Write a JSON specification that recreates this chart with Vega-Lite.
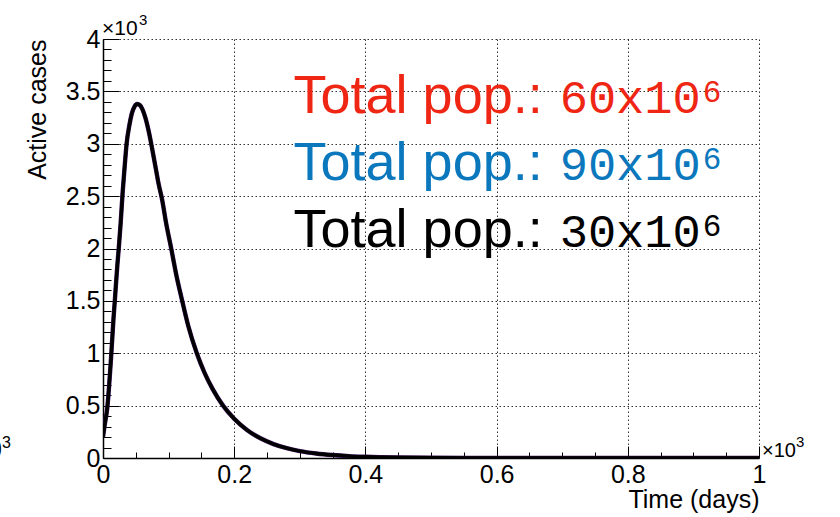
{
  "$schema": "https://vega.github.io/schema/vega-lite/v6.json",
  "width": 656,
  "height": 419,
  "autosize": "none",
  "padding": {"left": 103, "top": 39, "right": 81, "bottom": 59},
  "background": "white",
  "config": {
    "view": {"stroke": null},
    "font": "Liberation Sans",
    "text": {"font": "Liberation Sans", "color": "#000"},
    "axis": {
      "domainColor": "#000",
      "tickColor": "#000",
      "labelColor": "#000",
      "titleColor": "#000",
      "labelFont": "Liberation Sans",
      "titleFont": "Liberation Sans",
      "labelFontSize": 25,
      "titleFontSize": 25,
      "titleFontWeight": "normal",
      "labelFlush": false,
      "labelOverlap": false,
      "gridColor": "#000",
      "gridDash": [1.5, 2.5],
      "gridWidth": 1,
      "gridOpacity": 0.8
    }
  },
  "datasets": {
    "curve": [
      {"t": 0, "cases": 200}, {"t": 2, "cases": 290}, {"t": 4, "cases": 370},
      {"t": 6, "cases": 450}, {"t": 8, "cases": 580}, {"t": 10, "cases": 750},
      {"t": 12, "cases": 930}, {"t": 14, "cases": 1130}, {"t": 16, "cases": 1330},
      {"t": 18, "cases": 1500}, {"t": 20, "cases": 1680}, {"t": 22, "cases": 1850},
      {"t": 24, "cases": 2000}, {"t": 27, "cases": 2250}, {"t": 30, "cases": 2540},
      {"t": 33, "cases": 2780}, {"t": 36, "cases": 3000}, {"t": 40, "cases": 3170},
      {"t": 44, "cases": 3290}, {"t": 48, "cases": 3355}, {"t": 52, "cases": 3380},
      {"t": 56, "cases": 3370}, {"t": 60, "cases": 3330}, {"t": 65, "cases": 3240},
      {"t": 70, "cases": 3110}, {"t": 75, "cases": 2950}, {"t": 80, "cases": 2780},
      {"t": 85, "cases": 2610}, {"t": 90, "cases": 2470}, {"t": 96, "cases": 2250},
      {"t": 104, "cases": 2000}, {"t": 112, "cases": 1740}, {"t": 120, "cases": 1520},
      {"t": 130, "cases": 1260}, {"t": 143, "cases": 1000}, {"t": 155, "cases": 810},
      {"t": 167, "cases": 660}, {"t": 183, "cases": 500}, {"t": 200, "cases": 375},
      {"t": 220, "cases": 265}, {"t": 240, "cases": 188}, {"t": 260, "cases": 133},
      {"t": 280, "cases": 94}, {"t": 300, "cases": 66}, {"t": 325, "cases": 43},
      {"t": 350, "cases": 28}, {"t": 375, "cases": 18}, {"t": 400, "cases": 12},
      {"t": 450, "cases": 5}, {"t": 500, "cases": 2}, {"t": 600, "cases": 0.4},
      {"t": 700, "cases": 0}, {"t": 800, "cases": 0}, {"t": 900, "cases": 0},
      {"t": 1000, "cases": 0}
    ],
    "populations": [
      {"label": "Total pop.:", "pop": "60x10", "exp": "6", "t": 684, "cases": 3296},
      {"label": "Total pop.:", "pop": "90x10", "exp": "6", "t": 684, "cases": 2654},
      {"label": "Total pop.:", "pop": "30x10", "exp": "6", "t": 684, "cases": 2017}
    ]
  },
  "layer": [
    {
      "data": {"name": "curve"},
      "mark": {"type": "line", "color": "#3c1258", "strokeWidth": 4.4, "interpolate": "monotone", "clip": true},
      "encoding": {
        "x": {
          "field": "t", "type": "quantitative",
          "scale": {"domain": [0, 1000], "nice": false},
          "axis": {
            "orient": "bottom",
            "values": [0, 200, 400, 600, 800, 1000],
            "grid": true,
            "tickSize": -12,
            "domainWidth": 1.5,
            "labelExpr": "'' + datum.value / 1000",
            "labelPadding": 16,
            "title": "Time (days)",
            "titleAnchor": "end",
            "titlePadding": 0
          }
        },
        "y": {
          "field": "cases", "type": "quantitative",
          "scale": {"domain": [0, 4000], "nice": false},
          "axis": {
            "orient": "left",
            "values": [0, 500, 1000, 1500, 2000, 2500, 3000, 3500, 4000],
            "grid": true,
            "tickSize": -16,
            "domainWidth": 1.5,
            "labelExpr": "'' + datum.value / 1000",
            "labelPadding": 19,
            "title": "Active cases",
            "titleAnchor": "end",
            "titlePadding": 15
          }
        }
      }
    },
    {
      "data": {"name": "curve"},
      "mark": {"type": "line", "color": "#000000", "strokeWidth": 3.4, "interpolate": "monotone", "clip": true},
      "encoding": {
        "x": {
          "field": "t", "type": "quantitative",
          "scale": {"domain": [0, 1000], "nice": false},
          "axis": {
            "orient": "bottom",
            "values": [50, 100, 150, 250, 300, 350, 450, 500, 550, 650, 700, 750, 850, 900, 950],
            "grid": false, "domain": false, "labels": false, "title": null,
            "tickSize": -6
          }
        },
        "y": {
          "field": "cases", "type": "quantitative",
          "scale": {"domain": [0, 4000], "nice": false},
          "axis": {
            "orient": "left",
            "values": [100, 200, 300, 400, 600, 700, 800, 900, 1100, 1200, 1300, 1400, 1600, 1700, 1800, 1900, 2100, 2200, 2300, 2400, 2600, 2700, 2800, 2900, 3100, 3200, 3300, 3400, 3600, 3700, 3800, 3900],
            "grid": false, "domain": false, "labels": false, "title": null,
            "tickSize": -8
          }
        }
      }
    },
    {
      "data": {"name": "populations"},
      "mark": {"type": "text", "font": "Liberation Sans", "fontSize": 54, "align": "right", "baseline": "alphabetic", "dx": -9},
      "encoding": {
        "x": {"field": "t", "type": "quantitative", "axis": null},
        "y": {"field": "cases", "type": "quantitative", "axis": null},
        "text": {"field": "label"},
        "color": {
          "field": "pop", "type": "nominal", "legend": null,
          "scale": {"domain": ["60x10", "90x10", "30x10"], "range": ["#ef2614", "#0b77bd", "#000000"]}
        }
      }
    },
    {
      "data": {"name": "populations"},
      "mark": {"type": "text", "font": "Liberation Mono", "fontSize": 47, "align": "left", "baseline": "alphabetic", "dx": 8},
      "encoding": {
        "x": {"field": "t", "type": "quantitative", "axis": null},
        "y": {"field": "cases", "type": "quantitative", "axis": null},
        "text": {"field": "pop"},
        "color": {
          "field": "pop", "type": "nominal", "legend": null,
          "scale": {"domain": ["60x10", "90x10", "30x10"], "range": ["#ef2614", "#0b77bd", "#000000"]}
        }
      }
    },
    {
      "data": {"name": "populations"},
      "mark": {"type": "text", "font": "Liberation Mono", "fontSize": 31, "align": "left", "baseline": "alphabetic", "dx": 151, "dy": -11},
      "encoding": {
        "x": {"field": "t", "type": "quantitative", "axis": null},
        "y": {"field": "cases", "type": "quantitative", "axis": null},
        "text": {"field": "exp"},
        "color": {
          "field": "pop", "type": "nominal", "legend": null,
          "scale": {"domain": ["60x10", "90x10", "30x10"], "range": ["#ef2614", "#0b77bd", "#000000"]}
        }
      }
    },
    {
      "data": {"values": [{"t": 0, "cases": 4000, "mult": "×10", "exp": "3"}]},
      "layer": [
        {"mark": {"type": "text", "fontSize": 21, "align": "left", "baseline": "alphabetic", "dx": -1, "dy": -4},
         "encoding": {"text": {"field": "mult"}}},
        {"mark": {"type": "text", "fontSize": 15, "align": "left", "baseline": "alphabetic", "dx": 36, "dy": -14},
         "encoding": {"text": {"field": "exp"}}}
      ],
      "encoding": {
        "x": {"field": "t", "type": "quantitative", "axis": null},
        "y": {"field": "cases", "type": "quantitative", "axis": null}
      }
    },
    {
      "data": {"values": [{"t": 1000, "cases": 0, "mult": "×10", "exp": "3"}]},
      "layer": [
        {"mark": {"type": "text", "fontSize": 20, "align": "left", "baseline": "alphabetic", "dx": 3, "dy": -1},
         "encoding": {"text": {"field": "mult"}}},
        {"mark": {"type": "text", "fontSize": 15, "align": "left", "baseline": "alphabetic", "dx": 37, "dy": -11},
         "encoding": {"text": {"field": "exp"}}}
      ],
      "encoding": {
        "x": {"field": "t", "type": "quantitative", "axis": null},
        "y": {"field": "cases", "type": "quantitative", "axis": null}
      }
    },
    {
      "data": {"values": [{"t": 0, "cases": 0, "mult": "×10", "exp": "3"}]},
      "layer": [
        {"mark": {"type": "text", "fontSize": 25, "align": "right", "baseline": "alphabetic", "dx": -101, "dy": 0},
         "encoding": {"text": {"field": "mult"}}},
        {"mark": {"type": "text", "fontSize": 16, "align": "left", "baseline": "alphabetic", "dx": -101, "dy": -10},
         "encoding": {"text": {"field": "exp"}}}
      ],
      "encoding": {
        "x": {"field": "t", "type": "quantitative", "axis": null},
        "y": {"field": "cases", "type": "quantitative", "axis": null}
      }
    }
  ],
  "resolve": {"axis": {"x": "independent", "y": "independent"}}
}
